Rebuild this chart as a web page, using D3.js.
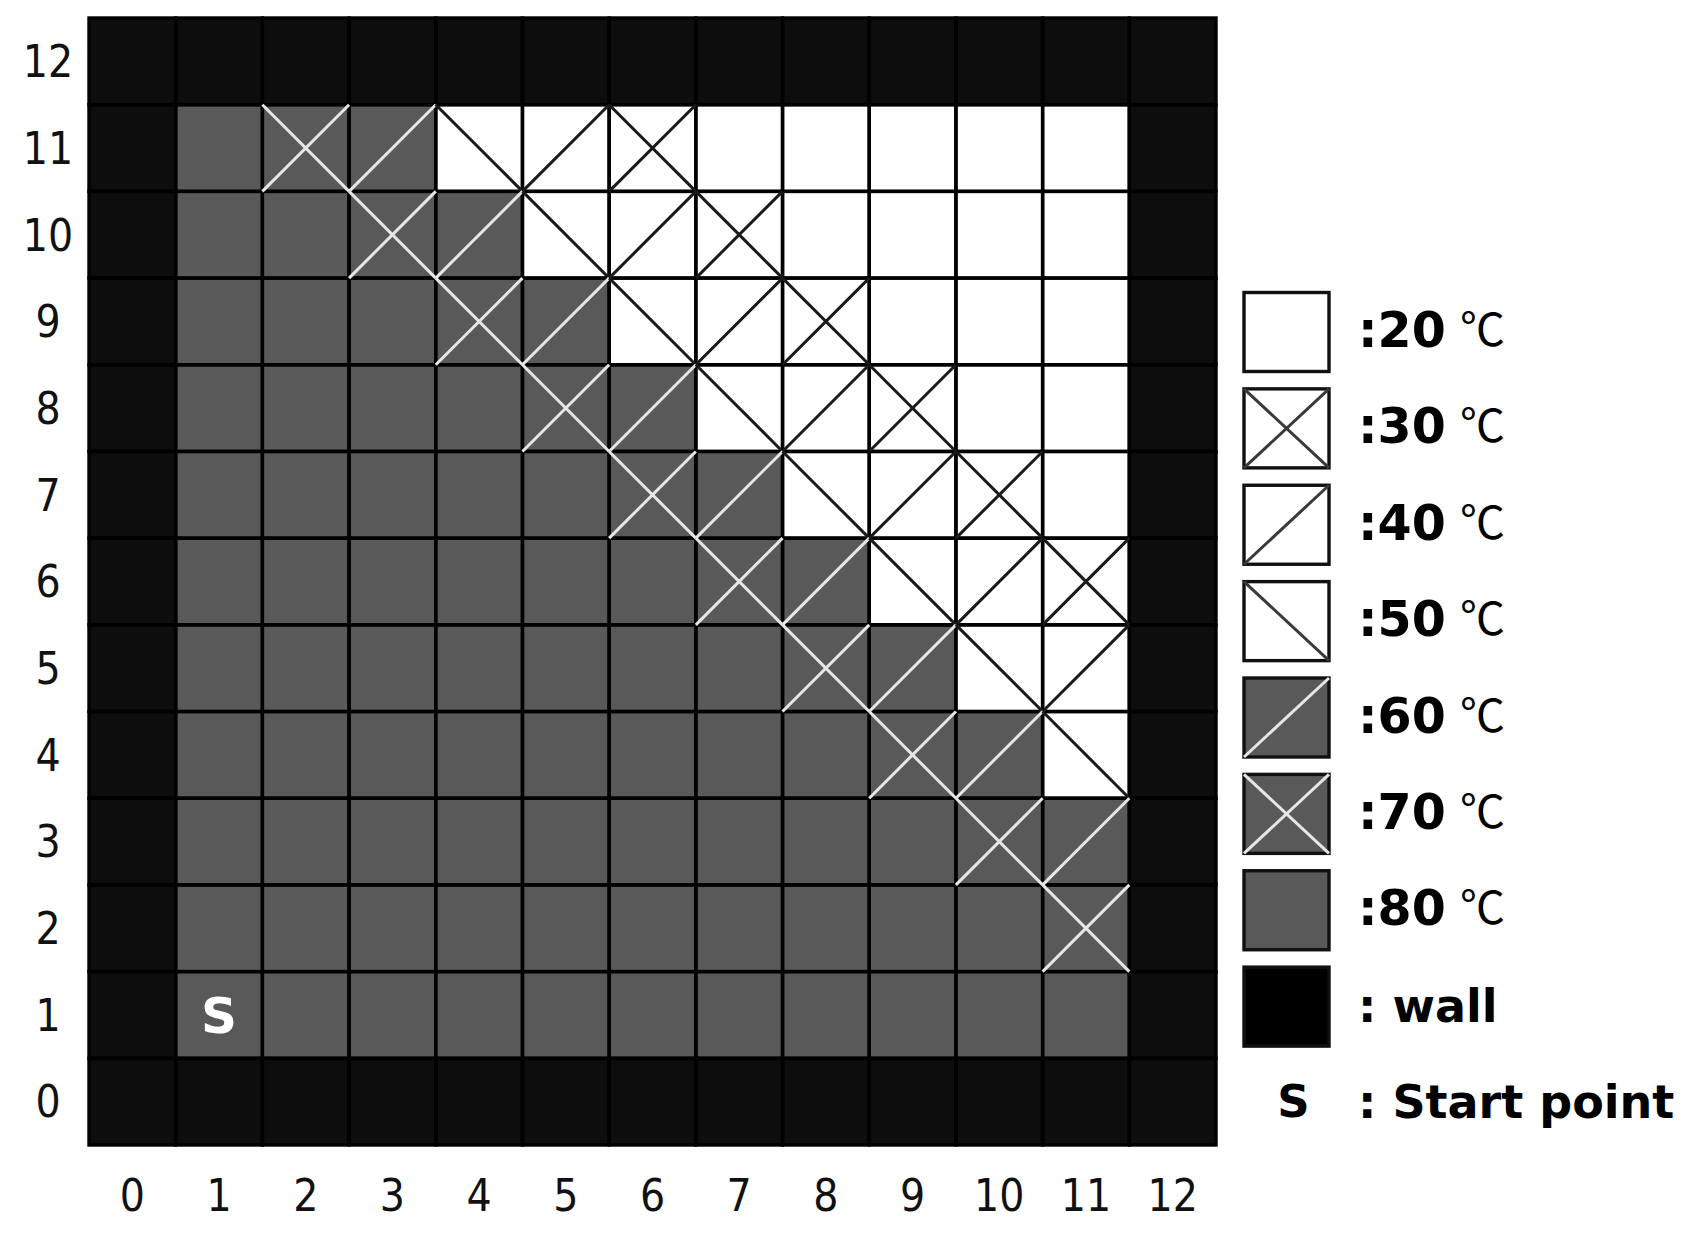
<!DOCTYPE html>
<html>
<head>
<meta charset="utf-8">
<script src="https://cdn.jsdelivr.net/npm/d3@7"></script>
<style>
  html, body { margin: 0; padding: 0; background: #fff; }
  svg { display: block; }
  .axis text { font-family: "DejaVu Sans Condensed", "DejaVu Sans", sans-serif; font-size: 44px; fill: #111; }
  .legend text { font-family: "DejaVu Sans", sans-serif; font-weight: bold; fill: #000; }
  .legend text.unit { font-family: "Noto Sans CJK JP", sans-serif; font-weight: 400; font-size: 45px; }
</style>
</head>
<body>
<svg id="chart" width="1693" height="1234"></svg>
<script>
// Axis labels
const xTicks = [0, 1, 2, 3, 4, 5, 6, 7, 8, 9, 10, 11, 12];
const yTicks = [0, 1, 2, 3, 4, 5, 6, 7, 8, 9, 10, 11, 12];

// Temperature of each cell, top row (y = 12) first; "W" is wall
const tempRows = [
    ["W", "W", "W", "W", "W", "W", "W", "W", "W", "W", "W", "W", "W"],
    ["W", 80, 70, 60, 50, 40, 30, 20, 20, 20, 20, 20, "W"],
    ["W", 80, 80, 70, 60, 50, 40, 30, 20, 20, 20, 20, "W"],
    ["W", 80, 80, 80, 70, 60, 50, 40, 30, 20, 20, 20, "W"],
    ["W", 80, 80, 80, 80, 70, 60, 50, 40, 30, 20, 20, "W"],
    ["W", 80, 80, 80, 80, 80, 70, 60, 50, 40, 30, 20, "W"],
    ["W", 80, 80, 80, 80, 80, 80, 70, 60, 50, 40, 30, "W"],
    ["W", 80, 80, 80, 80, 80, 80, 80, 70, 60, 50, 40, "W"],
    ["W", 80, 80, 80, 80, 80, 80, 80, 80, 70, 60, 50, "W"],
    ["W", 80, 80, 80, 80, 80, 80, 80, 80, 80, 70, 60, "W"],
    ["W", 80, 80, 80, 80, 80, 80, 80, 80, 80, 80, 70, "W"],
    ["W", 80, 80, 80, 80, 80, 80, 80, 80, 80, 80, 80, "W"],
    ["W", "W", "W", "W", "W", "W", "W", "W", "W", "W", "W", "W", "W"]
];

// Start point
const startCell = { x: 1, y: 1, label: "S" };

// Legend entries
const legendTemps = [20, 30, 40, 50, 60, 70, 80];
const legendUnit = "℃";
const wallLabel = ": wall";
const startLabel = ": Start point";

// Look of each temperature class
const cellStyle = {
    20: { fill: "#ffffff", marks: [] },
    30: { fill: "#ffffff", marks: ["\\", "/"] },
    40: { fill: "#ffffff", marks: ["/"] },
    50: { fill: "#ffffff", marks: ["\\"] },
    60: { fill: "#595959", marks: ["/"] },
    70: { fill: "#595959", marks: ["\\", "/"] },
    80: { fill: "#595959", marks: [] },
    W: { fill: "#0d0d0d", marks: [] }
};
const markColor = fill => fill === "#ffffff" ? "#1a1a1a" : "#e6e6e6";

const svg = d3.select("#chart");

// Scales
const x = d3.scaleBand().domain(xTicks).range([89, 1216]);
const y = d3.scaleBand().domain(yTicks.slice().reverse()).range([18, 1145]);
const bw = x.bandwidth();

// Flatten grid into cells
const cells = tempRows.flatMap((row, r) =>
    row.map((t, c) => ({ x: xTicks[c], y: yTicks[yTicks.length - 1 - r], t: t })));

const grid = svg.append("g").attr("class", "grid");

// Cell fills
grid.selectAll("rect.cell")
    .data(cells)
    .enter()
    .append("rect")
    .attr("class", "cell")
    .attr("x", d => x(d.x))
    .attr("y", d => y(d.y))
    .attr("width", bw)
    .attr("height", y.bandwidth())
    .attr("fill", d => cellStyle[d.t].fill);

// Diagonal hatch marks
function markLine(kind, x0, y0, w, h) {
    return kind === "/"
        ? { x1: x0, y1: y0 + h, x2: x0 + w, y2: y0 }
        : { x1: x0, y1: y0, x2: x0 + w, y2: y0 + h };
}

const marks = cells.flatMap(d => cellStyle[d.t].marks.map(k => {
    const m = markLine(k, x(d.x), y(d.y), bw, y.bandwidth());
    m.color = markColor(cellStyle[d.t].fill);
    return m;
}));

// Cell borders
grid.selectAll("rect.border")
    .data(cells)
    .enter()
    .append("rect")
    .attr("class", "border")
    .attr("x", d => x(d.x))
    .attr("y", d => y(d.y))
    .attr("width", bw)
    .attr("height", y.bandwidth())
    .attr("fill", "none")
    .attr("stroke", "#000")
    .attr("stroke-width", 3.4);

grid.selectAll("line.mark")
    .data(marks)
    .enter()
    .append("line")
    .attr("class", "mark")
    .attr("x1", d => d.x1).attr("y1", d => d.y1)
    .attr("x2", d => d.x2).attr("y2", d => d.y2)
    .attr("stroke", d => d.color)
    .attr("stroke-width", 3);

// Start point marker
grid.append("text")
    .attr("x", x(startCell.x) + bw / 2)
    .attr("y", y(startCell.y) + y.bandwidth() / 2 + 18)
    .attr("text-anchor", "middle")
    .attr("font-family", "DejaVu Sans, sans-serif")
    .attr("font-weight", "600")
    .attr("font-size", "50px")
    .attr("fill", "#fff")
    .text(startCell.label);

// Axes
const xAxis = svg.append("g")
    .attr("class", "axis")
    .attr("transform", "translate(0,1145)")
    .call(d3.axisBottom(x).tickSize(0));
xAxis.select(".domain").remove();
xAxis.selectAll("text").attr("y", 50).attr("dy", "0.36em");

const yAxis = svg.append("g")
    .attr("class", "axis")
    .attr("transform", "translate(89,0)")
    .call(d3.axisLeft(y).tickSize(0));
yAxis.select(".domain").remove();
yAxis.selectAll("text")
    .attr("x", -41)
    .attr("dy", "0.36em")
    .attr("text-anchor", "middle");

// Legend
const legend = svg.append("g").attr("class", "legend");
const legendRows = legendTemps.map(t => ({ key: t, text: ":" + t, unit: true }))
    .concat([{ key: "W", text: wallLabel, unit: false },
             { key: "S", text: startLabel, unit: false }]);
const ly = d3.scalePoint()
    .domain(legendRows.map(d => d.key))
    .range([329, 1100]);

const boxW = 85, boxH = 79, boxX = 1244;
const swatch = legendRows.filter(d => d.key !== "S");

legend.selectAll("rect.swatch")
    .data(swatch)
    .enter()
    .append("rect")
    .attr("class", "swatch")
    .attr("x", boxX)
    .attr("y", d => ly(d.key) + 3 - boxH / 2)
    .attr("width", boxW)
    .attr("height", boxH)
    .attr("fill", d => d.key === "W" ? "#000" : cellStyle[d.key].fill)
    .attr("stroke", "#111")
    .attr("stroke-width", 3.4);

const legendMarks = swatch.flatMap(d => cellStyle[d.key].marks.map(k => {
    const m = markLine(k, boxX, ly(d.key) + 3 - boxH / 2, boxW, boxH);
    m.color = cellStyle[d.key].fill === "#ffffff" ? "#3a3a3a" : "#e6e6e6";
    return m;
}));

legend.selectAll("line.mark")
    .data(legendMarks)
    .enter()
    .append("line")
    .attr("class", "mark")
    .attr("x1", d => d.x1).attr("y1", d => d.y1)
    .attr("x2", d => d.x2).attr("y2", d => d.y2)
    .attr("stroke", d => d.color)
    .attr("stroke-width", 3);

legend.append("text")
    .attr("x", boxX + boxW / 2 + 7)
    .attr("y", ly("S") + 17)
    .attr("text-anchor", "middle")
    .attr("font-size", "45px")
    .text(startCell.label);

legend.selectAll("text.label")
    .data(legendRows)
    .enter()
    .append("text")
    .attr("class", "label")
    .attr("x", 1358)
    .attr("y", d => ly(d.key) + 18)
    .attr("font-size", d => d.unit ? "49px" : "46px")
    .text(d => d.text);

legend.selectAll("text.unit")
    .data(legendRows.filter(d => d.unit))
    .enter()
    .append("text")
    .attr("class", "unit")
    .attr("x", 1460)
    .attr("y", d => ly(d.key) + 17)
    .text(legendUnit);
</script>
</body>
</html>
